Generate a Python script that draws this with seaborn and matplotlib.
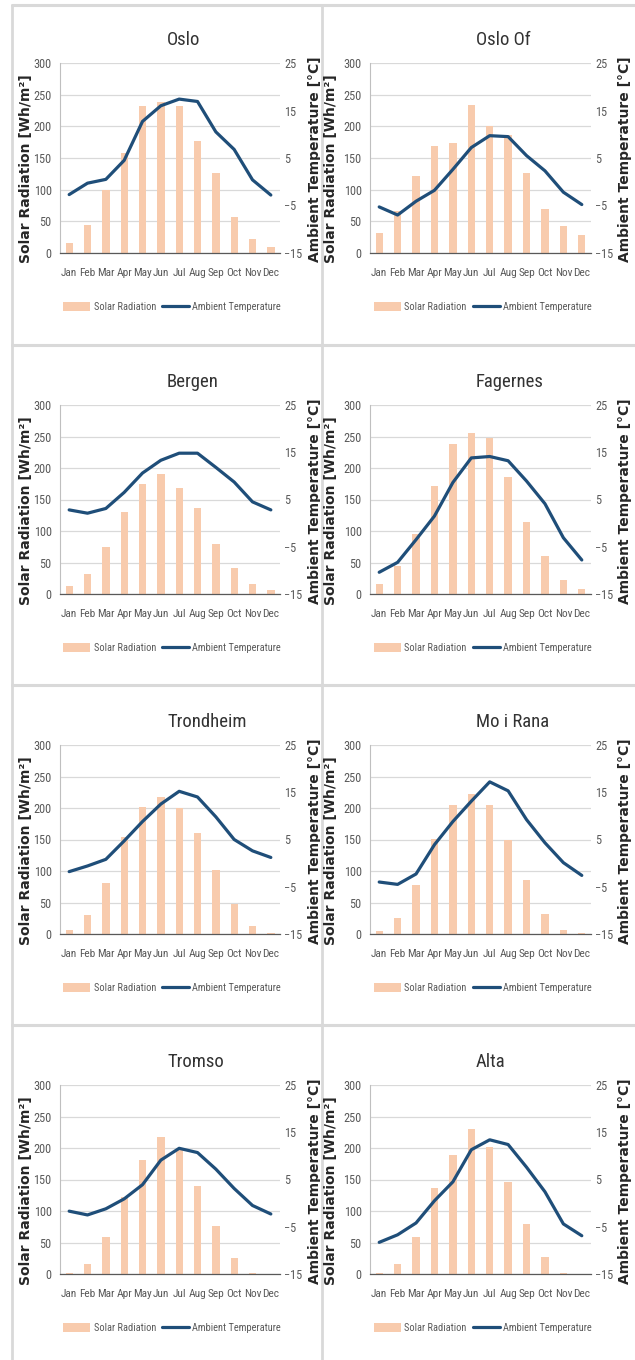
import numpy as np
import pandas as pd
import matplotlib
matplotlib.use("Agg")
import matplotlib.pyplot as plt
import seaborn as sns
from matplotlib import font_manager as fm
from matplotlib.patches import Patch
from matplotlib.lines import Line2D
from matplotlib.transforms import Bbox, TransformedBbox

# ---------------- data ----------------
months = ["Jan", "Feb", "Mar", "Apr", "May", "Jun", "Jul", "Aug", "Sep", "Oct", "Nov", "Dec"]
cities = ["Oslo", "Oslo Of", "Bergen", "Fagernes", "Trondheim", "Mo i Rana", "Tromso", "Alta"]

oslo_solar = [16, 44, 100, 158, 232, 238, 232, 177, 127, 57, 22, 10]
oslo_temp = [-2.7, -0.3, 0.5, 4.5, 12.7, 16.0, 17.4, 16.9, 10.5, 6.8, 0.4, -2.8]

oslo_of_solar = [31, 66, 122, 169, 174, 234, 200, 187, 127, 70, 42, 29]
oslo_of_temp = [-5.3, -7.0, -4.1, -1.8, 2.6, 7.2, 9.7, 9.5, 5.5, 2.3, -2.2, -4.8]

bergen_solar = [12, 31, 75, 130, 175, 190, 169, 137, 80, 41, 16, 6]
bergen_temp = [2.8, 2.1, 3.1, 6.5, 10.6, 13.3, 14.8, 14.8, 11.8, 8.7, 4.5, 2.8]

fagernes_solar = [16, 44, 96, 171, 238, 255, 247, 186, 115, 61, 22, 8]
fagernes_temp = [-10.4, -8.3, -3.5, 1.5, 8.6, 13.8, 14.1, 13.2, 8.9, 4.1, -3.1, -7.8]

trondheim_solar = [7, 30, 81, 154, 202, 217, 200, 160, 102, 47, 13, 2]
trondheim_temp = [-1.8, -0.6, 0.8, 4.7, 8.8, 12.5, 15.2, 14.0, 9.8, 5.0, 2.6, 1.2]

mo_i_rana_solar = [4, 25, 78, 151, 205, 223, 205, 150, 85, 32, 6, 1]
mo_i_rana_temp = [-4.0, -4.5, -2.3, 3.9, 8.8, 13.1, 17.2, 15.3, 9.2, 4.3, 0.1, -2.6]

tromso_solar = [1.5, 16, 59, 123, 181, 217, 198, 140, 76, 25, 1.5, 0]
tromso_temp = [-1.7, -2.5, -1.2, 0.9, 3.9, 9.1, 11.6, 10.7, 7.2, 3.1, -0.5, -2.3]

alta_solar = [1.5, 16, 59, 136, 189, 230, 202, 146, 80, 27, 1.5, 0]
alta_temp = [-8.3, -6.7, -4.2, 0.5, 4.5, 11.3, 13.4, 12.4, 7.6, 2.4, -4.4, -6.9]

solar_series = [oslo_solar, oslo_of_solar, bergen_solar, fagernes_solar,
                trondheim_solar, mo_i_rana_solar, tromso_solar, alta_solar]
temp_series = [oslo_temp, oslo_of_temp, bergen_temp, fagernes_temp,
               trondheim_temp, mo_i_rana_temp, tromso_temp, alta_temp]

left_ticks = [0, 50, 100, 150, 200, 250, 300]
right_ticks = [-15, -5, 5, 15, 25]
legend_labels = ["Solar Radiation", "Ambient Temperature"]
left_label = "Solar Radiation [Wh/m\u00b2]"
right_label = "Ambient Temperature [\u00b0C]"

# ---------------- style ----------------
BAR = "#F8CBAD"
LINE = "#1F4E79"
GRID = "#D9D9D9"
TXT = "#595959"
BORDER = "#D9D9D9"

sns.set_theme(style="white")
avail = {f.name for f in fm.fontManager.ttflist}
NARROW = "DejaVu Sans"
for cand in ["Liberation Sans Narrow", "Roboto Condensed", "Open Sans Condensed",
             "Noto Sans Condensed", "Liberation Sans"]:
    if cand in avail:
        NARROW = cand
        break
plt.rcParams["font.family"] = [NARROW, "DejaVu Sans"]

W, H = 635, 1360
fig = plt.figure(figsize=(W / 100, H / 100), dpi=100)
fig.patch.set_facecolor("white")

def fx(px):
    return px / W

def fy(py):
    return 1 - py / H

# panel borders
for y in [5, 345, 685, 1025]:
    fig.add_artist(Line2D([fx(12), fx(635)], [fy(y), fy(y)], color=BORDER, lw=2.2,
                          transform=fig.transFigure, zorder=-5))
for x in [12, 322]:
    fig.add_artist(Line2D([fx(x), fx(x)], [fy(5), fy(1360)], color=BORDER, lw=2.0,
                          transform=fig.transFigure, zorder=-5))

col_left = [60, 370]
col_width = [220, 221]
row_top = [63, 405, 745, 1085]
row_bot = [253, 594, 934, 1274]
title_x = [167, 476]
ylab_left_x = [26, 331]
ylab_right_x = [315, 625]
panel_right = [320, 635]

for i, city in enumerate(cities):
    r, c = divmod(i, 2)
    l, w = col_left[c], col_width[c]
    t, b = row_top[r], row_bot[r]
    ax = fig.add_axes([fx(l), fy(b), w / W, (b - t) / H])
    df = pd.DataFrame({"Month": months, "Solar": solar_series[i],
                       "Temp": temp_series[i], "idx": np.arange(len(months))})
    sns.barplot(data=df, x="Month", y="Solar", ax=ax, color=BAR, width=0.4,
                saturation=1, edgecolor="none")
    ax.set_ylim(0, 300)
    ax.set_yticks(left_ticks)
    ax.set_xlim(-0.5, 11.5)
    ax.set_xlabel("")
    ax.set_ylabel("")
    ax.yaxis.grid(True, color=GRID, lw=0.9)
    ax.set_axisbelow(True)
    for s in ["top", "right"]:
        ax.spines[s].set_visible(False)
    ax.spines["left"].set_color("#BFBFBF")
    ax.spines["left"].set_linewidth(0.8)
    ax.spines["bottom"].set_color("#595959")
    ax.spines["bottom"].set_linewidth(0.9)
    ax.tick_params(axis="y", length=0, pad=6, labelsize=8.8, colors=TXT)
    ax.tick_params(axis="x", length=0, pad=11, labelsize=8.2, colors=TXT)

    ax2 = ax.twinx()
    sns.lineplot(data=df, x="idx", y="Temp", ax=ax2, color=LINE, lw=2.3)
    ax2.set_ylim(-15, 25)
    ax2.set_yticks(right_ticks)
    ax2.set_xlim(-0.5, 11.5)
    ax2.set_xlabel("")
    ax2.set_ylabel("")
    for s in ax2.spines.values():
        s.set_visible(False)
    ax2.tick_params(axis="y", length=0, pad=3, labelsize=8.8, colors=TXT)
    ax2.grid(False)

    handles = [Patch(facecolor=BAR, edgecolor="none"), Line2D([], [], color=LINE, lw=2.3)]
    ax2.legend(handles, legend_labels, loc="center", bbox_to_anchor=(0.51, -0.284),
               ncol=2, frameon=False, fontsize=7.5, handlelength=2.6, handleheight=1.0,
               handletextpad=0.3, columnspacing=0.6, labelcolor=TXT)

    fig.text(fx(title_x[c]), fy(t - 23), city, ha="left", va="center",
             fontsize=13.5, color="#333333")
    fig.text(fx(ylab_left_x[c]), fy(t + 106), left_label, rotation=90, ha="center",
             va="center", fontsize=10, fontweight="bold", color="#262626",
             family="DejaVu Sans")
    rt = fig.text(fx(ylab_right_x[c]), fy(t + 96), right_label, rotation=90, ha="center",
                  va="center", fontsize=10, fontweight="bold", color="#262626",
                  family="DejaVu Sans")
    clip = TransformedBbox(Bbox.from_extents(0, 0, fx(panel_right[c]), 1), fig.transFigure)
    rt.set_clip_box(clip)
    rt.set_clip_on(True)

fig.savefig("out.png", dpi=100, facecolor="white")
